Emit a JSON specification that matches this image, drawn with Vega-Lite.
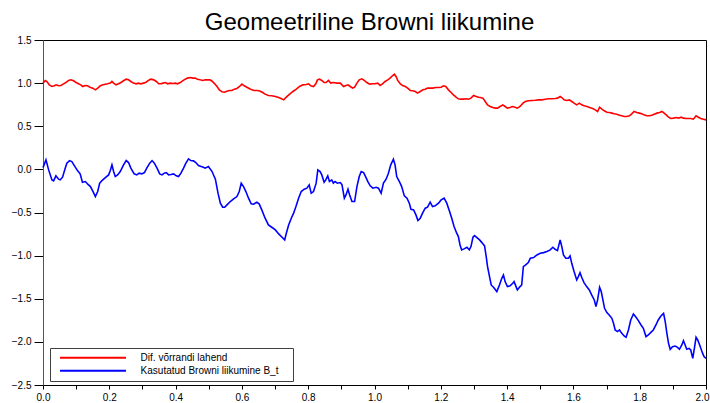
{
  "$schema": "https://vega.github.io/schema/vega-lite/v6.json",
  "width": 663,
  "height": 345,
  "autosize": {"type": "none"},
  "padding": {"left": 43, "top": 40, "right": 4, "bottom": 18},
  "background": "white",
  "title": {
    "text": "Geomeetriline Browni liikumine",
    "font": "Liberation Sans",
    "fontSize": 24,
    "fontWeight": "normal",
    "color": "#000",
    "anchor": "middle",
    "offset": 0,
    "dx": -5
  },
  "config": {
    "view": {"stroke": "#000", "strokeWidth": 1},
    "axis": {
      "labelFont": "Liberation Sans",
      "labelFontSize": 10,
      "labelColor": "#000",
      "tickColor": "#000",
      "domainColor": "#000",
      "grid": false,
      "title": null,
      "labelFlush": false,
      "labelOverlap": false
    }
  },
  "datasets": {
    "lahend": [
      {"t":0.000,"v":1.000},{"t":0.007,"v":1.031},{"t":0.012,"v":1.019},{"t":0.019,"v":0.980},{"t":0.027,"v":0.961},
      {"t":0.034,"v":0.969},{"t":0.040,"v":0.980},{"t":0.047,"v":0.969},{"t":0.054,"v":0.973},{"t":0.062,"v":0.992},
      {"t":0.069,"v":1.007},{"t":0.077,"v":1.031},{"t":0.084,"v":1.038},{"t":0.092,"v":1.027},{"t":0.100,"v":1.007},
      {"t":0.107,"v":0.992},{"t":0.114,"v":0.980},{"t":0.120,"v":0.961},{"t":0.127,"v":0.973},{"t":0.134,"v":0.969},
      {"t":0.142,"v":0.953},{"t":0.150,"v":0.942},{"t":0.158,"v":0.922},{"t":0.165,"v":0.942},{"t":0.173,"v":0.969},
      {"t":0.181,"v":0.980},{"t":0.188,"v":0.988},{"t":0.195,"v":0.992},{"t":0.203,"v":1.000},{"t":0.208,"v":1.019},
      {"t":0.213,"v":1.000},{"t":0.220,"v":0.980},{"t":0.228,"v":0.992},{"t":0.235,"v":1.007},{"t":0.243,"v":1.027},
      {"t":0.251,"v":1.046},{"t":0.258,"v":1.038},{"t":0.265,"v":1.019},{"t":0.273,"v":1.000},{"t":0.281,"v":0.992},
      {"t":0.288,"v":1.000},{"t":0.295,"v":0.992},{"t":0.303,"v":1.000},{"t":0.311,"v":1.011},{"t":0.318,"v":1.031},
      {"t":0.325,"v":1.046},{"t":0.334,"v":1.038},{"t":0.342,"v":1.019},{"t":0.349,"v":0.992},{"t":0.356,"v":0.992},
      {"t":0.362,"v":1.000},{"t":0.369,"v":1.007},{"t":0.376,"v":0.992},{"t":0.384,"v":1.000},{"t":0.392,"v":0.996},
      {"t":0.399,"v":1.000},{"t":0.406,"v":0.992},{"t":0.414,"v":1.007},{"t":0.421,"v":1.027},{"t":0.429,"v":1.046},
      {"t":0.436,"v":1.058},{"t":0.444,"v":1.065},{"t":0.452,"v":1.058},{"t":0.459,"v":1.058},{"t":0.466,"v":1.046},
      {"t":0.474,"v":1.038},{"t":0.482,"v":1.031},{"t":0.489,"v":1.038},{"t":0.496,"v":1.038},{"t":0.504,"v":1.038},
      {"t":0.511,"v":1.019},{"t":0.518,"v":0.992},{"t":0.525,"v":0.961},{"t":0.532,"v":0.922},{"t":0.540,"v":0.899},
      {"t":0.547,"v":0.895},{"t":0.555,"v":0.907},{"t":0.562,"v":0.915},{"t":0.570,"v":0.915},{"t":0.577,"v":0.930},
      {"t":0.585,"v":0.938},{"t":0.593,"v":0.961},{"t":0.600,"v":0.988},{"t":0.607,"v":0.969},{"t":0.615,"v":0.953},
      {"t":0.622,"v":0.938},{"t":0.630,"v":0.922},{"t":0.637,"v":0.915},{"t":0.645,"v":0.915},{"t":0.652,"v":0.911},
      {"t":0.663,"v":0.891},{"t":0.670,"v":0.872},{"t":0.680,"v":0.857},{"t":0.690,"v":0.853},{"t":0.701,"v":0.845},
      {"t":0.711,"v":0.833},{"t":0.718,"v":0.822},{"t":0.726,"v":0.806},{"t":0.734,"v":0.837},{"t":0.744,"v":0.872},
      {"t":0.754,"v":0.903},{"t":0.764,"v":0.930},{"t":0.774,"v":0.961},{"t":0.784,"v":0.980},{"t":0.794,"v":0.984},
      {"t":0.801,"v":0.992},{"t":0.808,"v":0.969},{"t":0.816,"v":0.961},{"t":0.823,"v":0.992},{"t":0.828,"v":1.038},
      {"t":0.834,"v":1.046},{"t":0.841,"v":1.031},{"t":0.848,"v":1.007},{"t":0.854,"v":1.007},{"t":0.861,"v":1.031},
      {"t":0.868,"v":1.000},{"t":0.876,"v":1.007},{"t":0.887,"v":1.000},{"t":0.897,"v":1.000},{"t":0.902,"v":0.980},
      {"t":0.907,"v":0.961},{"t":0.914,"v":0.973},{"t":0.920,"v":0.980},{"t":0.927,"v":0.961},{"t":0.934,"v":0.942},
      {"t":0.940,"v":0.953},{"t":0.947,"v":1.000},{"t":0.954,"v":1.038},{"t":0.962,"v":1.050},{"t":0.969,"v":1.031},
      {"t":0.977,"v":1.007},{"t":0.985,"v":0.988},{"t":0.994,"v":0.992},{"t":1.002,"v":0.992},{"t":1.010,"v":1.000},
      {"t":1.017,"v":0.973},{"t":1.024,"v":0.992},{"t":1.032,"v":1.019},{"t":1.040,"v":1.038},{"t":1.047,"v":1.058},
      {"t":1.054,"v":1.085},{"t":1.060,"v":1.104},{"t":1.065,"v":1.077},{"t":1.070,"v":1.031},{"t":1.078,"v":0.992},
      {"t":1.086,"v":0.969},{"t":1.093,"v":0.961},{"t":1.100,"v":0.942},{"t":1.108,"v":0.915},{"t":1.115,"v":0.911},
      {"t":1.123,"v":0.903},{"t":1.130,"v":0.884},{"t":1.138,"v":0.903},{"t":1.146,"v":0.922},{"t":1.153,"v":0.930},
      {"t":1.160,"v":0.942},{"t":1.168,"v":0.942},{"t":1.176,"v":0.942},{"t":1.185,"v":0.949},{"t":1.193,"v":0.949},
      {"t":1.201,"v":0.953},{"t":1.208,"v":0.969},{"t":1.215,"v":0.961},{"t":1.223,"v":0.922},{"t":1.231,"v":0.891},
      {"t":1.238,"v":0.864},{"t":1.246,"v":0.837},{"t":1.253,"v":0.818},{"t":1.260,"v":0.814},{"t":1.268,"v":0.814},
      {"t":1.277,"v":0.818},{"t":1.284,"v":0.814},{"t":1.291,"v":0.826},{"t":1.299,"v":0.857},{"t":1.307,"v":0.845},
      {"t":1.314,"v":0.837},{"t":1.319,"v":0.833},{"t":1.327,"v":0.826},{"t":1.334,"v":0.787},{"t":1.341,"v":0.748},
      {"t":1.349,"v":0.729},{"t":1.357,"v":0.717},{"t":1.364,"v":0.710},{"t":1.371,"v":0.710},{"t":1.379,"v":0.729},
      {"t":1.387,"v":0.748},{"t":1.394,"v":0.729},{"t":1.401,"v":0.710},{"t":1.409,"v":0.717},{"t":1.416,"v":0.729},
      {"t":1.424,"v":0.721},{"t":1.431,"v":0.710},{"t":1.439,"v":0.729},{"t":1.448,"v":0.768},{"t":1.455,"v":0.787},
      {"t":1.465,"v":0.795},{"t":1.475,"v":0.799},{"t":1.485,"v":0.802},{"t":1.495,"v":0.806},{"t":1.505,"v":0.806},
      {"t":1.515,"v":0.814},{"t":1.525,"v":0.818},{"t":1.535,"v":0.818},{"t":1.545,"v":0.822},{"t":1.552,"v":0.826},
      {"t":1.560,"v":0.845},{"t":1.565,"v":0.833},{"t":1.572,"v":0.806},{"t":1.580,"v":0.799},{"t":1.588,"v":0.806},
      {"t":1.595,"v":0.787},{"t":1.602,"v":0.768},{"t":1.610,"v":0.748},{"t":1.618,"v":0.768},{"t":1.625,"v":0.748},
      {"t":1.632,"v":0.737},{"t":1.641,"v":0.729},{"t":1.649,"v":0.717},{"t":1.658,"v":0.706},{"t":1.666,"v":0.690},
      {"t":1.673,"v":0.671},{"t":1.679,"v":0.721},{"t":1.686,"v":0.698},{"t":1.693,"v":0.679},{"t":1.701,"v":0.663},
      {"t":1.709,"v":0.659},{"t":1.716,"v":0.652},{"t":1.723,"v":0.644},{"t":1.731,"v":0.640},{"t":1.739,"v":0.628},
      {"t":1.746,"v":0.621},{"t":1.753,"v":0.613},{"t":1.761,"v":0.613},{"t":1.769,"v":0.621},{"t":1.776,"v":0.644},
      {"t":1.783,"v":0.671},{"t":1.791,"v":0.659},{"t":1.799,"v":0.652},{"t":1.806,"v":0.644},{"t":1.813,"v":0.632},
      {"t":1.821,"v":0.621},{"t":1.829,"v":0.621},{"t":1.836,"v":0.628},{"t":1.844,"v":0.640},{"t":1.852,"v":0.652},
      {"t":1.860,"v":0.659},{"t":1.867,"v":0.671},{"t":1.872,"v":0.659},{"t":1.880,"v":0.632},{"t":1.887,"v":0.605},
      {"t":1.894,"v":0.590},{"t":1.902,"v":0.594},{"t":1.910,"v":0.601},{"t":1.917,"v":0.594},{"t":1.925,"v":0.605},
      {"t":1.932,"v":0.594},{"t":1.940,"v":0.590},{"t":1.947,"v":0.590},{"t":1.954,"v":0.590},{"t":1.962,"v":0.582},
      {"t":1.970,"v":0.621},{"t":1.977,"v":0.605},{"t":1.984,"v":0.590},{"t":1.992,"v":0.582},{"t":2.000,"v":0.574}
    ],
    "brown": [
      {"t":0.000,"v":0.020},{"t":0.009,"v":0.110},{"t":0.017,"v":-0.006},{"t":0.027,"v":-0.122},{"t":0.032,"v":-0.133},
      {"t":0.039,"v":-0.075},{"t":0.047,"v":-0.114},{"t":0.052,"v":-0.122},{"t":0.059,"v":-0.091},{"t":0.067,"v":0.014},
      {"t":0.072,"v":0.072},{"t":0.080,"v":0.102},{"t":0.087,"v":0.091},{"t":0.095,"v":0.041},{"t":0.104,"v":-0.014},
      {"t":0.112,"v":-0.052},{"t":0.119,"v":-0.149},{"t":0.128,"v":-0.141},{"t":0.135,"v":-0.172},{"t":0.143,"v":-0.199},
      {"t":0.151,"v":-0.257},{"t":0.158,"v":-0.315},{"t":0.165,"v":-0.257},{"t":0.171,"v":-0.160},{"t":0.178,"v":-0.130},
      {"t":0.188,"v":-0.095},{"t":0.198,"v":-0.064},{"t":0.203,"v":-0.014},{"t":0.208,"v":0.052},{"t":0.213,"v":-0.025},
      {"t":0.218,"v":-0.083},{"t":0.225,"v":-0.064},{"t":0.233,"v":-0.025},{"t":0.243,"v":0.052},{"t":0.251,"v":0.102},
      {"t":0.258,"v":0.079},{"t":0.265,"v":0.014},{"t":0.275,"v":-0.052},{"t":0.283,"v":-0.064},{"t":0.290,"v":-0.044},
      {"t":0.298,"v":-0.052},{"t":0.306,"v":-0.037},{"t":0.313,"v":0.014},{"t":0.322,"v":0.072},{"t":0.329,"v":0.102},
      {"t":0.336,"v":0.072},{"t":0.344,"v":0.014},{"t":0.352,"v":-0.052},{"t":0.359,"v":-0.064},{"t":0.366,"v":-0.044},
      {"t":0.372,"v":-0.037},{"t":0.379,"v":-0.064},{"t":0.386,"v":-0.060},{"t":0.394,"v":-0.052},{"t":0.402,"v":-0.075},
      {"t":0.409,"v":-0.083},{"t":0.416,"v":-0.044},{"t":0.424,"v":0.014},{"t":0.431,"v":0.072},{"t":0.439,"v":0.122},
      {"t":0.446,"v":0.102},{"t":0.454,"v":0.099},{"t":0.461,"v":0.079},{"t":0.469,"v":0.044},{"t":0.477,"v":0.033},
      {"t":0.484,"v":0.025},{"t":0.489,"v":0.014},{"t":0.499,"v":0.033},{"t":0.510,"v":-0.025},{"t":0.520,"v":-0.114},
      {"t":0.528,"v":-0.276},{"t":0.535,"v":-0.392},{"t":0.542,"v":-0.439},{"t":0.548,"v":-0.439},{"t":0.555,"v":-0.412},
      {"t":0.565,"v":-0.373},{"t":0.575,"v":-0.342},{"t":0.585,"v":-0.315},{"t":0.592,"v":-0.257},{"t":0.598,"v":-0.160},
      {"t":0.605,"v":-0.199},{"t":0.612,"v":-0.257},{"t":0.620,"v":-0.334},{"t":0.628,"v":-0.400},{"t":0.635,"v":-0.404},
      {"t":0.645,"v":-0.381},{"t":0.652,"v":-0.400},{"t":0.660,"v":-0.470},{"t":0.670,"v":-0.566},{"t":0.680,"v":-0.644},
      {"t":0.690,"v":-0.671},{"t":0.701,"v":-0.702},{"t":0.711,"v":-0.748},{"t":0.721,"v":-0.787},{"t":0.729,"v":-0.818},
      {"t":0.734,"v":-0.740},{"t":0.741,"v":-0.644},{"t":0.749,"v":-0.566},{"t":0.756,"v":-0.508},{"t":0.763,"v":-0.431},
      {"t":0.771,"v":-0.334},{"t":0.779,"v":-0.257},{"t":0.788,"v":-0.230},{"t":0.796,"v":-0.218},{"t":0.803,"v":-0.180},
      {"t":0.809,"v":-0.276},{"t":0.816,"v":-0.257},{"t":0.824,"v":-0.160},{"t":0.829,"v":-0.006},{"t":0.836,"v":-0.025},
      {"t":0.841,"v":-0.064},{"t":0.848,"v":-0.149},{"t":0.853,"v":-0.122},{"t":0.859,"v":-0.075},{"t":0.864,"v":-0.141},
      {"t":0.871,"v":-0.122},{"t":0.876,"v":-0.160},{"t":0.881,"v":-0.141},{"t":0.888,"v":-0.160},{"t":0.897,"v":-0.153},
      {"t":0.902,"v":-0.180},{"t":0.909,"v":-0.334},{"t":0.914,"v":-0.296},{"t":0.920,"v":-0.230},{"t":0.925,"v":-0.296},
      {"t":0.932,"v":-0.373},{"t":0.940,"v":-0.373},{"t":0.947,"v":-0.199},{"t":0.954,"v":-0.083},{"t":0.960,"v":-0.025},
      {"t":0.967,"v":-0.037},{"t":0.972,"v":-0.075},{"t":0.980,"v":-0.141},{"t":0.987,"v":-0.191},{"t":0.995,"v":-0.218},
      {"t":1.005,"v":-0.207},{"t":1.012,"v":-0.218},{"t":1.020,"v":-0.276},{"t":1.027,"v":-0.160},{"t":1.035,"v":-0.114},
      {"t":1.042,"v":-0.044},{"t":1.049,"v":0.052},{"t":1.057,"v":0.118},{"t":1.062,"v":0.052},{"t":1.067,"v":-0.083},
      {"t":1.075,"v":-0.141},{"t":1.082,"v":-0.199},{"t":1.090,"v":-0.307},{"t":1.098,"v":-0.334},{"t":1.105,"v":-0.392},
      {"t":1.110,"v":-0.462},{"t":1.118,"v":-0.470},{"t":1.125,"v":-0.528},{"t":1.131,"v":-0.594},{"t":1.138,"v":-0.566},
      {"t":1.145,"v":-0.508},{"t":1.153,"v":-0.450},{"t":1.160,"v":-0.439},{"t":1.168,"v":-0.381},{"t":1.175,"v":-0.431},
      {"t":1.183,"v":-0.423},{"t":1.193,"v":-0.392},{"t":1.201,"v":-0.354},{"t":1.210,"v":-0.334},{"t":1.218,"v":-0.392},
      {"t":1.225,"v":-0.470},{"t":1.233,"v":-0.566},{"t":1.240,"v":-0.663},{"t":1.248,"v":-0.740},{"t":1.253,"v":-0.779},
      {"t":1.258,"v":-0.876},{"t":1.263,"v":-0.934},{"t":1.270,"v":-0.922},{"t":1.279,"v":-0.903},{"t":1.286,"v":-0.934},
      {"t":1.291,"v":-0.895},{"t":1.297,"v":-0.787},{"t":1.302,"v":-0.768},{"t":1.309,"v":-0.791},{"t":1.317,"v":-0.818},
      {"t":1.324,"v":-0.849},{"t":1.332,"v":-0.887},{"t":1.337,"v":-1.011},{"t":1.341,"v":-1.127},{"t":1.347,"v":-1.243},
      {"t":1.352,"v":-1.340},{"t":1.359,"v":-1.367},{"t":1.369,"v":-1.417},{"t":1.377,"v":-1.340},{"t":1.384,"v":-1.263},
      {"t":1.389,"v":-1.224},{"t":1.394,"v":-1.301},{"t":1.401,"v":-1.359},{"t":1.409,"v":-1.351},{"t":1.417,"v":-1.321},
      {"t":1.421,"v":-1.301},{"t":1.427,"v":-1.359},{"t":1.431,"v":-1.398},{"t":1.439,"v":-1.359},{"t":1.444,"v":-1.340},
      {"t":1.449,"v":-1.127},{"t":1.456,"v":-1.108},{"t":1.464,"v":-1.081},{"t":1.470,"v":-1.031},{"t":1.480,"v":-1.023},
      {"t":1.490,"v":-0.992},{"t":1.500,"v":-0.973},{"t":1.510,"v":-0.965},{"t":1.520,"v":-0.953},{"t":1.530,"v":-0.934},
      {"t":1.538,"v":-0.903},{"t":1.545,"v":-0.926},{"t":1.552,"v":-0.942},{"t":1.560,"v":-0.818},{"t":1.565,"v":-0.895},
      {"t":1.570,"v":-0.992},{"t":1.577,"v":-1.031},{"t":1.585,"v":-1.031},{"t":1.590,"v":-1.003},{"t":1.595,"v":-1.089},
      {"t":1.602,"v":-1.185},{"t":1.610,"v":-1.282},{"t":1.615,"v":-1.243},{"t":1.620,"v":-1.197},{"t":1.625,"v":-1.251},
      {"t":1.632,"v":-1.313},{"t":1.640,"v":-1.359},{"t":1.648,"v":-1.398},{"t":1.655,"v":-1.456},{"t":1.663,"v":-1.514},
      {"t":1.668,"v":-1.591},{"t":1.673,"v":-1.514},{"t":1.679,"v":-1.367},{"t":1.684,"v":-1.417},{"t":1.689,"v":-1.514},
      {"t":1.694,"v":-1.611},{"t":1.701,"v":-1.661},{"t":1.708,"v":-1.688},{"t":1.716,"v":-1.727},{"t":1.721,"v":-1.785},
      {"t":1.726,"v":-1.862},{"t":1.733,"v":-1.881},{"t":1.739,"v":-1.862},{"t":1.746,"v":-1.901},{"t":1.753,"v":-1.932},
      {"t":1.759,"v":-1.947},{"t":1.766,"v":-1.862},{"t":1.773,"v":-1.746},{"t":1.781,"v":-1.676},{"t":1.789,"v":-1.715},
      {"t":1.796,"v":-1.754},{"t":1.804,"v":-1.804},{"t":1.811,"v":-1.843},{"t":1.819,"v":-1.939},{"t":1.826,"v":-1.920},
      {"t":1.833,"v":-1.893},{"t":1.841,"v":-1.862},{"t":1.849,"v":-1.804},{"t":1.856,"v":-1.746},{"t":1.864,"v":-1.700},
      {"t":1.872,"v":-1.669},{"t":1.877,"v":-1.765},{"t":1.882,"v":-1.901},{"t":1.887,"v":-2.017},{"t":1.892,"v":-2.086},
      {"t":1.899,"v":-2.055},{"t":1.907,"v":-2.048},{"t":1.914,"v":-2.063},{"t":1.920,"v":-2.086},{"t":1.927,"v":-2.036},
      {"t":1.932,"v":-1.986},{"t":1.937,"v":-2.036},{"t":1.942,"v":-2.086},{"t":1.949,"v":-2.075},{"t":1.954,"v":-2.094},
      {"t":1.960,"v":-2.191},{"t":1.965,"v":-2.075},{"t":1.970,"v":-1.947},{"t":1.975,"v":-1.978},{"t":1.982,"v":-2.048},
      {"t":1.989,"v":-2.125},{"t":1.994,"v":-2.171},{"t":2.000,"v":-2.191}
    ]
  },
  "encoding": {
    "x": {
      "field": "t",
      "type": "quantitative",
      "scale": {"domain": [0, 2], "nice": false, "zero": false},
      "axis": {
        "values": [0, 0.1, 0.2, 0.3, 0.4, 0.5, 0.6, 0.7, 0.8, 0.9, 1.0, 1.1, 1.2, 1.3, 1.4, 1.5, 1.6, 1.7, 1.8, 1.9, 2.0],
        "labelExpr": "round(datum.value * 10) % 2 === 0 ? format(datum.value, '.1f') : ''",
        "tickSize": 4,
        "labelPadding": 3,
        "labelOffset": {"condition": {"test": "datum.value >= 1.95", "value": -4}, "value": 0}
      }
    },
    "y": {
      "field": "v",
      "type": "quantitative",
      "scale": {"domain": [-2.5, 1.5], "nice": false, "zero": false},
      "axis": {
        "values": [-2.5, -2.0, -1.5, -1.0, -0.5, 0.0, 0.5, 1.0, 1.5],
        "format": ".1f",
        "tickSize": 9,
        "labelPadding": 3,
        "domainColor": "#555"
      }
    }
  },
  "layer": [
    {
      "data": {"name": "lahend"},
      "mark": {"type": "line", "strokeWidth": 1.6},
      "encoding": {
        "color": {
          "datum": "Dif. võrrandi lahend",
          "type": "nominal",
          "scale": {
            "domain": ["Dif. võrrandi lahend", "Kasutatud Browni liikumine B_t"],
            "range": ["#ff0000", "#0000ff"]
          },
          "legend": {
            "orient": "none",
            "legendX": 7,
            "legendY": 308,
            "title": null,
            "symbolType": "stroke",
            "symbolSize": 4356,
            "symbolStrokeWidth": 2,
            "clipHeight": 12.6,
            "rowPadding": 0,
            "padding": 3.4,
            "symbolOffset": 5.6,
            "labelOffset": 13.6,
            "labelExpr": "datum.label + '\u00a0\u00a0\u00a0\u00a0\u200b'",
            "labelFont": "Liberation Sans",
            "labelFontSize": 10,
            "labelColor": "#000",
            "strokeColor": "#404040",
            "fillColor": "#fff",
            "cornerRadius": 0
          }
        }
      }
    },
    {
      "data": {"name": "brown"},
      "mark": {"type": "line", "strokeWidth": 1.6},
      "encoding": {
        "color": {"datum": "Kasutatud Browni liikumine B_t", "type": "nominal"}
      }
    }
  ]
}
